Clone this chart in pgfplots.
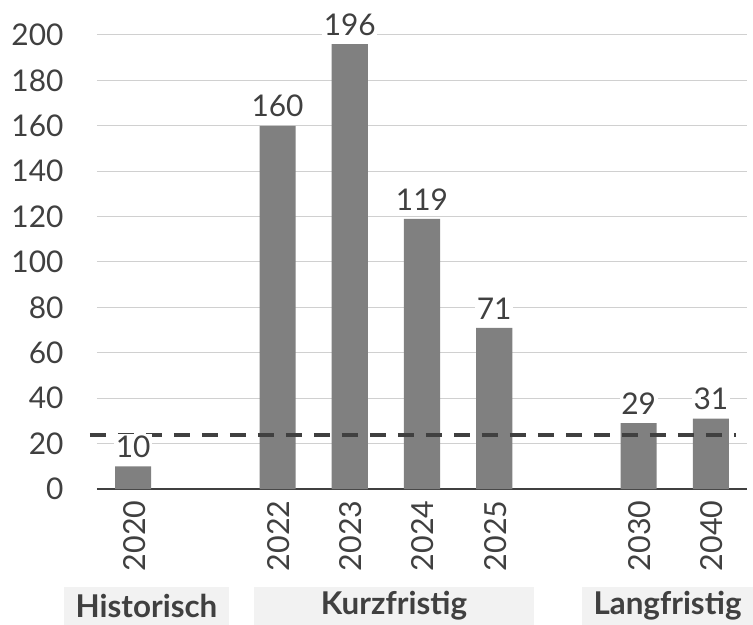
\documentclass[border=0pt]{standalone}
\usepackage{pgfplots}
\pgfplotsset{compat=1.18}
\usepackage{fontspec}
\setmainfont{Lato}
\definecolor{bargray}{HTML}{808080}
\definecolor{txt}{HTML}{404040}
\definecolor{gridc}{HTML}{D0D0D0}
\definecolor{boxc}{HTML}{F2F2F2}

\begin{document}
\begin{tikzpicture}
\path[use as bounding box] (-97bp,-136bp) rectangle (656bp,489bp);
\begin{axis}[
  at={(0,0)}, anchor=south west,
  scale only axis, width=650bp, height=454bp,
  xmin=-0.5, xmax=8.5, ymin=0, ymax=200,
  clip=false,
  axis x line*=bottom, axis y line*=left,
  y axis line style={draw=none},
  x axis line style={draw=txt, line width=1.5bp, -},
  ytick={0,20,...,200},
  xtick={0,2,3,4,5,7,8},
  xticklabels={2020,2022,2023,2024,2025,2030,2040},
  major tick length=0pt,
  ymajorgrids, grid style={gridc, line width=1bp},
  /pgf/number format/assume math mode=true,
  yticklabel style={font=\fontsize{30}{30}\selectfont, text=txt, anchor=east, xshift=-30bp},
  xticklabel style={font=\fontsize{30.5}{30}\selectfont, text=txt, rotate=90, anchor=east, xshift=-8bp, yshift=-1bp},
  ybar, bar width=0.5,
  nodes near coords,
  nodes near coords style={font=\fontsize{30}{30}\selectfont, text=txt, fill=white, inner sep=1.5bp, anchor=south, yshift=7bp},
]
\addplot[fill=bargray, draw=none] coordinates {
  (0,10) (2,160) (3,196) (4,119) (5,71) (7,29) (8,31)
};
% reference level
\addplot[ybar=false, sharp plot, no marks, draw=txt, line width=4bp, dash pattern=on 16bp off 12bp, nodes near coords={}] coordinates {(-0.6,23.7) (8.35,23.7)};
\end{axis}
\begin{scope}[every node/.style={font=\fontsize{31.5}{31.5}\selectfont\bfseries, text=txt}]
\fill[boxc] (-33bp,-98bp) rectangle (132bp,-136bp);
\fill[boxc] (157bp,-98bp) rectangle (437bp,-136bp);
\fill[boxc] (485bp,-98bp) rectangle (656bp,-136bp);
\node at (49.5bp,-117bp) {Historisch};
\node at (297bp,-117bp) {Kurzfristig};
\node at (570.5bp,-117bp) {Langfristig};
\end{scope}
\end{tikzpicture}
\end{document}
